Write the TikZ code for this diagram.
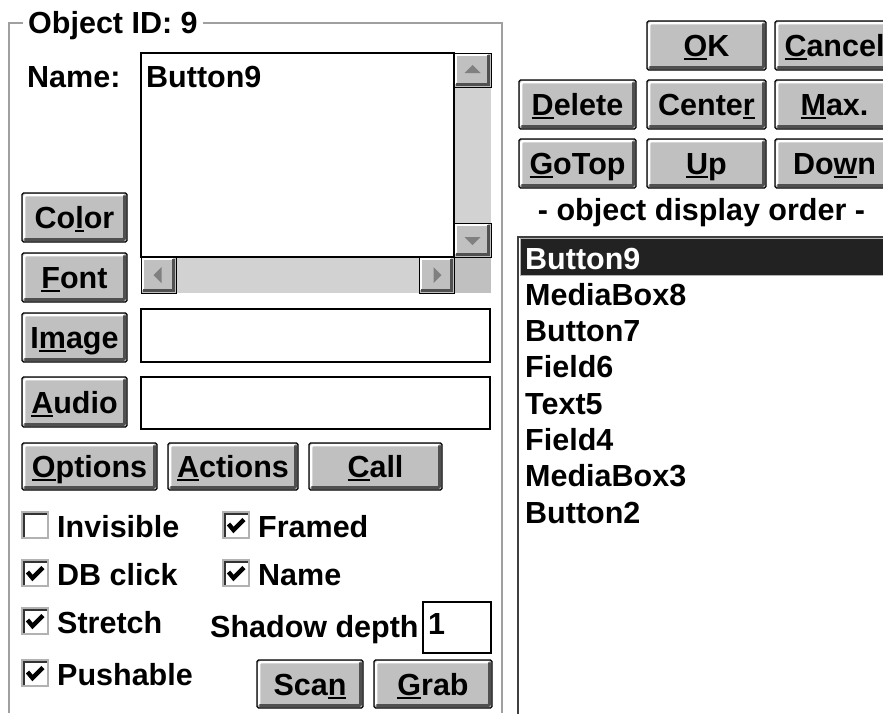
\documentclass[tikz,border=0pt]{standalone}
\usepackage{fontspec}
\setmainfont{Liberation Sans}

\definecolor{btnface}{HTML}{C0C0C0}
\definecolor{btnshadow}{HTML}{505050}
\definecolor{dither}{HTML}{D2D2D2}
\definecolor{grpline}{HTML}{A0A0A0}
\definecolor{selfill}{HTML}{222222}
\definecolor{listedge}{HTML}{404040}
\definecolor{arrowgray}{HTML}{808080}

% dialog font
\newcommand\uifont{\fontsize{30.5}{34}\selectfont\bfseries}
% mnemonic underline
\newcommand\ul[1]{\setbox0\hbox{#1}\rlap{\rule[-3.5pt]{\wd0}{2pt}}\box0}
% rectangle node given by its corners: style, name, x1, y1, x2, y2, text
\newcommand\place[7]{%
  \node[#1, minimum width={#5-#3}, minimum height={#6-#4}] (#2)
    at ({(#3+#5)/2},{(#4+#6)/2}) {#7};}
% check mark inside a check box
\newcommand\tickin[1]{%
  \draw[tick] ([shift={(-7.5pt,1pt)}]#1.center) -- ([shift={(-2.5pt,-5pt)}]#1.center)
    -- ([shift={(8pt,5.5pt)}]#1.center);}

\begin{document}
\begin{tikzpicture}[x=1pt,y=-1pt,
  ui/.style={font=\uifont},
  lbl/.style={ui, inner sep=0pt, anchor=base west},
  bevel/.style={path picture={
    \draw[white, line width=2.4pt]
      ([shift={(2.2pt,3pt)}]path picture bounding box.south west)
      |- ([shift={(-3pt,-2.2pt)}]path picture bounding box.north east);
    \draw[btnshadow, line width=3pt]
      ([shift={(2.4pt,2.4pt)}]path picture bounding box.south west)
      -| ([shift={(-2.4pt,-2.4pt)}]path picture bounding box.north east);}},
  btn/.style={ui, bevel, fill=btnface, draw=black, line width=1.2pt,
    rounded corners=1.5pt, inner sep=0pt, text height=26pt, text depth=4pt},
  sbtn/.style={bevel, fill=btnface, draw=black, line width=1pt, inner sep=0pt},
  field/.style={draw=black, line width=2pt, fill=white, inner sep=0pt},
  track/.style={fill=dither, inner sep=0pt},
  corner/.style={fill=btnface, inner sep=0pt},
  cbox/.style={draw=gray!60, line width=2.4pt, fill=white, inner sep=0pt,
    path picture={
      \draw[black!80, line width=3pt]
        ([shift={(1.4pt,0pt)}]path picture bounding box.south west)
        |- ([shift={(0pt,-1.4pt)}]path picture bounding box.north east);}},
  tick/.style={line width=4.4pt, line join=miter},
  arrowhead/.style={fill=arrowgray},
  grpframe/.style={draw=grpline, line width=2pt},
  selbar/.style={fill=selfill, draw=gray!60, line width=1pt, inner sep=0pt},
  listframe/.style={draw=listedge, line width=2.2pt},
]
\useasboundingbox (0,0) rectangle (883,713);
\clip (0,0) rectangle (883,713);
\fill[white] (0,0) rectangle (883,713);

% ---------- group box ----------
\node[lbl] (title) at (28,33) {Object ID: 9};
\draw[grpframe] (9,713) -- (9,23) -- (23,23);
\draw[grpframe] (203,23) -- (502,23) -- (502,713);

\node[lbl] (namelbl) at (27,87) {Name:};

% multi-line name field with scroll bars
\place{field}{namebox}{141}{53}{454}{257}{}
\node[lbl] (nametext) at (146,87) {Button9};
\place{track}{vtrack}{455}{87}{491}{223}{}
\place{track}{htrack}{176}{258}{419}{293}{}
\place{corner}{sbcorner}{455}{258}{491}{293}{}
\place{sbtn}{sbup}{454}{53}{491}{87}{}
\place{sbtn}{sbdown}{454}{223}{491}{257}{}
\place{sbtn}{sbleft}{141}{257}{176}{293}{}
\place{sbtn}{sbright}{419}{257}{454}{293}{}
\fill[arrowhead] ([shift={(-8pt,-3pt)}]sbup.center) -- ([shift={(8pt,-3pt)}]sbup.center)
  -- ([shift={(0pt,5pt)}]sbup.center) -- cycle;
\fill[arrowhead] ([shift={(-8pt,3pt)}]sbdown.center) -- ([shift={(8pt,3pt)}]sbdown.center)
  -- ([shift={(0pt,-5pt)}]sbdown.center) -- cycle;
\fill[arrowhead] ([shift={(3pt,8pt)}]sbleft.center) -- ([shift={(3pt,-8pt)}]sbleft.center)
  -- ([shift={(-5pt,0pt)}]sbleft.center) -- cycle;
\fill[arrowhead] ([shift={(-3pt,8pt)}]sbright.center) -- ([shift={(-3pt,-8pt)}]sbright.center)
  -- ([shift={(5pt,0pt)}]sbright.center) -- cycle;

% property buttons and fields
\place{btn}{bColor}{22}{193}{127}{242}{Co\ul{l}or}
\place{btn}{bFont}{22}{253}{127}{302}{\ul{F}ont}
\place{btn}{bImage}{22}{313}{127}{362}{I\ul{m}age}
\place{btn}{bAudio}{22}{377}{127}{427}{\ul{A}udio}
\place{field}{fImage}{141}{309}{490}{362}{}
\place{field}{fAudio}{141}{377}{490}{429}{}

\place{btn}{bOptions}{22}{443}{157}{490}{\ul{O}ptions}
\place{btn}{bActions}{168}{443}{298}{490}{\ul{A}ctions}
\place{btn}{bCall}{309}{443}{442}{490}{\ul{C}all}

% check boxes
\place{cbox}{cInvisible}{22}{512}{48}{538}{}
\place{cbox}{cDB}{22}{560}{48}{586}{}
\place{cbox}{cStretch}{22}{608}{48}{634}{}
\place{cbox}{cPush}{22}{660}{48}{686}{}
\place{cbox}{cFramed}{223}{512}{249}{538}{}
\place{cbox}{cName}{223}{560}{249}{586}{}
\tickin{cDB}
\tickin{cStretch}
\tickin{cPush}
\tickin{cFramed}
\tickin{cName}
\node[lbl] (tInvisible) at (57,537) {Invisible};
\node[lbl] (tDB) at (57,585) {DB click};
\node[lbl] (tStretch) at (57,633) {Stretch};
\node[lbl] (tPush) at (57,685) {Pushable};
\node[lbl] (tFramed) at (258,537) {Framed};
\node[lbl] (tName) at (258,585) {Name};

\node[lbl] (tShadow) at (210,637) {Shadow depth};
\place{field}{fDepth}{423}{602}{491}{653}{}
\node[lbl] (tDepth) at (428,634) {1};

\place{btn}{bScan}{257}{660}{363}{708}{Sca\ul{n}}
\place{btn}{bGrab}{374}{660}{492}{708}{\ul{G}rab}

% ---------- right column ----------
\place{btn}{bOK}{647}{21}{766}{70}{\ul{O}K}
\place{btn}{bCancel}{775}{21}{894}{70}{\ul{C}ancel}
\place{btn}{bDelete}{519}{80}{636}{129}{\ul{D}elete}
\place{btn}{bCenter}{647}{80}{766}{129}{Cente\ul{r}}
\place{btn}{bMax}{775}{80}{894}{129}{\ul{M}ax.}
\place{btn}{bGoTop}{519}{139}{636}{188}{\ul{G}oTop}
\place{btn}{bUp}{647}{139}{766}{188}{\ul{U}p}
\place{btn}{bDown}{775}{139}{894}{188}{Do\ul{w}n}

\node[ui, inner sep=0pt, anchor=base] (ordertitle) at (701.5,220) {- object display order -};

% object list
\draw[listframe] (518,720) -- (518,237) -- (890,237);
\place{selbar}{sel}{520}{238}{890}{275}{}
\node[lbl, text=white] (o1) at (525,269) {Button9};
\node[lbl] (o2) at (525,305.3) {MediaBox8};
\node[lbl] (o3) at (525,341.6) {Button7};
\node[lbl] (o4) at (525,377.9) {Field6};
\node[lbl] (o5) at (525,414.2) {Text5};
\node[lbl] (o6) at (525,450.5) {Field4};
\node[lbl] (o7) at (525,486.8) {MediaBox3};
\node[lbl] (o8) at (525,523.1) {Button2};
\end{tikzpicture}
\end{document}
